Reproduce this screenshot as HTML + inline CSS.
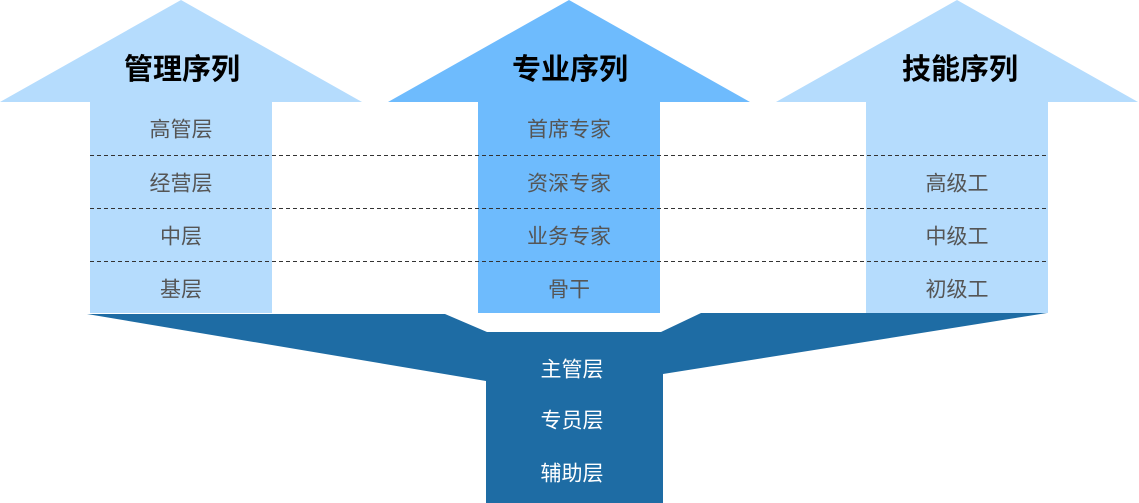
<!DOCTYPE html>
<html><head><meta charset="utf-8"><style>
html,body{margin:0;padding:0;background:#fff;width:1139px;height:503px;overflow:hidden}
svg text{font-family:"Liberation Sans","Noto Sans CJK SC",sans-serif;text-anchor:middle;dominant-baseline:central}
</style></head><body>
<svg width="1139" height="503" viewBox="0 0 1139 503" xmlns="http://www.w3.org/2000/svg">
<polygon points="181,0 362,102 272,102 272,313 90,313 90,102 0,102" fill="#b5dcfd"/>
<polygon points="569,0 750,102 660,102 660,313 478,313 478,102 388,102" fill="#6ebbfd"/>
<polygon points="957,0 1138,102 1048,102 1048,313 866,313 866,102 776,102" fill="#b5dcfd"/>
<polygon points="87,314 445,314 487,332 661,332 701,313 1047,313 663,374 663,503 486,503 486,381" fill="#1e6ca4"/>
<g stroke="#333" stroke-width="1" stroke-dasharray="4,3">
<line x1="90" y1="155.5" x2="1048" y2="155.5"/>
<line x1="90" y1="208.5" x2="1048" y2="208.5"/>
<line x1="90" y1="261.5" x2="1048" y2="261.5"/>
</g>
<g font-size="29" font-weight="bold" fill="#000">
<text x="182" y="70">管理序列</text>
<text x="570" y="70">专业序列</text>
<text x="960" y="70">技能序列</text>
</g>
<g font-size="21" fill="#555">
<text x="181" y="130">高管层</text>
<text x="181" y="184">经营层</text>
<text x="181" y="237">中层</text>
<text x="181" y="290">基层</text>
<text x="569" y="130">首席专家</text>
<text x="569" y="184">资深专家</text>
<text x="569" y="237">业务专家</text>
<text x="569" y="290">骨干</text>
<text x="957" y="184">高级工</text>
<text x="957" y="237">中级工</text>
<text x="957" y="290">初级工</text>
</g>
<g font-size="21" fill="#fff">
<text x="572" y="370">主管层</text>
<text x="572" y="421">专员层</text>
<text x="572" y="474">辅助层</text>
</g>
</svg>
</body></html>
